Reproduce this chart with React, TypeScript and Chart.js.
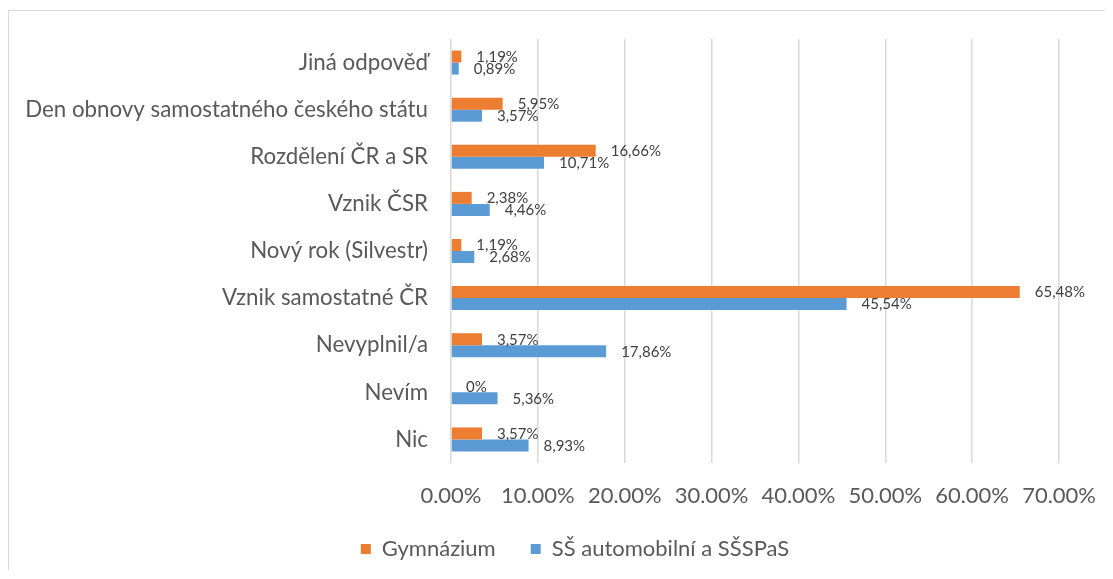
import React, { useEffect, useRef } from 'react';
import { Chart, registerables } from 'chart.js';

Chart.register(...registerables);

const categories = [
  'Jiná odpověď',
  'Den obnovy samostatného českého státu',
  'Rozdělení ČR a SR',
  'Vznik ČSR',
  'Nový rok (Silvestr)',
  'Vznik samostatné ČR',
  'Nevyplnil/a',
  'Nevím',
  'Nic',
];

const gymnazium = [1.19, 5.95, 16.66, 2.38, 1.19, 65.48, 3.57, 0, 3.57];
const ssAutomobilni = [0.89, 3.57, 10.71, 4.46, 2.68, 45.54, 17.86, 5.36, 8.93];

const seriesNames = ['Gymnázium', 'SŠ automobilní a SŠSPaS'];
const seriesColors = ['#ED7D31', '#5B9BD5'];

const xTickLabels = ['0,00%', '10,00%', '20,00%', '30,00%', '40,00%', '50,00%', '60,00%', '70,00%'];

const FONT = 'Lato, "Liberation Sans", sans-serif';

const formatPct = (v: number) => (v === 0 ? '0%' : v.toFixed(2).replace('.', ',') + '%');

const valueLabelPlugin = {
  id: 'valueLabels',
  afterDatasetsDraw(chart: any) {
    const ctx = chart.ctx;
    ctx.save();
    ctx.font = `15px ${FONT}`;
    ctx.fillStyle = '#404040';
    ctx.textAlign = 'left';
    ctx.textBaseline = 'middle';
    chart.data.datasets.forEach((ds: any, di: number) => {
      const meta = chart.getDatasetMeta(di);
      meta.data.forEach((bar: any, i: number) => {
        ctx.fillText(formatPct(ds.data[i]), bar.x + 15, bar.y + 0.5);
      });
    });
    ctx.restore();
  },
};

const legendShiftPlugin = {
  id: 'legendShift',
  beforeDraw(chart: any) {
    const lg = chart.legend;
    if (lg && !lg._shifted) {
      lg.left += 41;
      lg.right += 41;
      lg._shifted = true;
    }
  },
  afterUpdate(chart: any) {
    if (chart.legend) chart.legend._shifted = false;
  },
};

export default function App() {
  const ref = useRef<HTMLCanvasElement>(null);

  useEffect(() => {
    if (!ref.current) return;
    const chart = new Chart(ref.current, {
      type: 'bar',
      data: {
        labels: categories,
        datasets: [
          {
            label: seriesNames[0],
            data: gymnazium,
            backgroundColor: seriesColors[0],
            borderWidth: 0,
            categoryPercentage: 0.51,
            barPercentage: 1.0,
          },
          {
            label: seriesNames[1],
            data: ssAutomobilni,
            backgroundColor: seriesColors[1],
            borderWidth: 0,
            categoryPercentage: 0.51,
            barPercentage: 1.0,
          },
        ],
      },
      options: {
        indexAxis: 'y',
        responsive: false,
        animation: false,
        layout: { padding: { top: 28, right: 46, left: 0, bottom: 0 } },
        scales: {
          x: {
            min: 0,
            max: 70,
            grid: { color: '#d9d9d9', lineWidth: 1.5, drawTicks: false },
            border: { display: false },
            ticks: {
              stepSize: 10,
              padding: 20,
              color: '#595959',
              font: { family: FONT, size: 22 },
              callback: (_v: any, i: number) => xTickLabels[i],
            },
            afterFit: (scale: any) => {
              scale.height = 40;
              scale.paddingLeft = 0;
              scale.paddingRight = 0;
            },
          },
          y: {
            grid: { display: false, drawTicks: false },
            border: { display: false },
            ticks: {
              padding: 23,
              color: '#595959',
              font: { family: FONT, size: 22.3 },
            },
            afterFit: (scale: any) => {
              scale.width = 442;
              scale.paddingTop = 0;
              scale.paddingBottom = 0;
            },
          },
        },
        plugins: {
          legend: {
            position: 'bottom',
            labels: {
              boxWidth: 10,
              boxHeight: 10,
              padding: 35,
              color: '#595959',
              font: { family: FONT, size: 22 },
            },
          },
          tooltip: { enabled: false },
        },
      },
      plugins: [valueLabelPlugin, legendShiftPlugin],
    });
    return () => chart.destroy();
  }, []);

  return (
    <div
      style={{
        marginTop: 2,
        width: 1097,
        borderTop: '1px solid #d9d9d9',
        borderLeft: '1px solid #d9d9d9',
        boxSizing: 'border-box',
        background: '#fff',
      }}
    >
      <canvas ref={ref} width={1096} height={559} style={{ display: 'block' }} />
    </div>
  );
}
